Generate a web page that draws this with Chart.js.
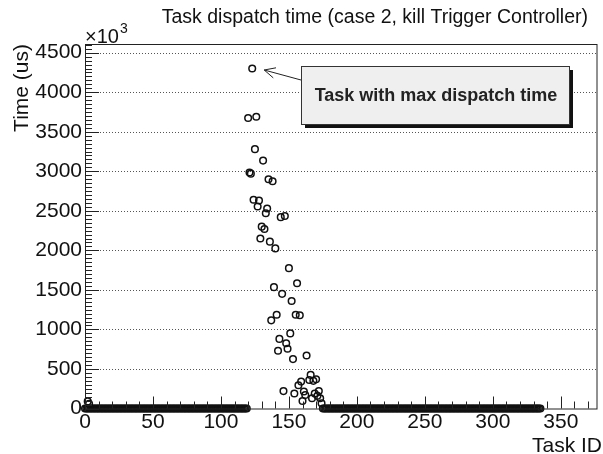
<!DOCTYPE html>
<html lang="en">
<head>
<meta charset="UTF-8">
<title>Task dispatch time</title>
<script src="https://cdn.jsdelivr.net/npm/chart.js@4.4.1/dist/chart.umd.min.js"></script>
<style>
  html, body { margin: 0; padding: 0; background: #fff; }
</style>
</head>
<body>
<canvas id="chart" width="603" height="454"></canvas>
<script>
// task IDs that were dispatched in ~0 us (before and after the burst)
const idleRanges = [[0, 119], [175, 335]];
// couple of early tasks just above zero
const earlyIds = [2, 3];
const earlyTimes = [90, 60];
// burst after killing the Trigger Controller (time in 10^3 us)
const burstIds = [123, 120, 126, 125, 131, 121, 122, 135, 138, 124, 128, 127, 134, 133,
  144, 147, 130, 132, 129, 136, 140, 150, 156, 139, 145, 152, 141, 137, 155, 158, 151,
  143, 148, 149, 142, 153, 163, 146, 154, 157, 159, 166, 165, 168, 170, 161, 162, 169,
  172, 171, 160, 167, 173, 174];
const burstTimes = [4300, 3675, 3690, 3280, 3135, 2985, 2970, 2900, 2875, 2640, 2630, 2555, 2530, 2470,
  2420, 2435, 2300, 2270, 2150, 2110, 2025, 1775, 1585, 1535, 1450, 1360, 1185, 1115, 1185, 1180, 950,
  880, 825, 755, 730, 625, 670, 220, 190, 295, 340, 425, 360, 350, 370, 215, 170, 190,
  220, 160, 95, 130, 130, 65];
const xTicks = [0, 50, 100, 150, 200, 250, 300, 350];
const yTicks = [0, 500, 1000, 1500, 2000, 2500, 3000, 3500, 4000, 4500];
const xMax = 377, yMax = 4610;

const points = [];
idleRanges.forEach(([a, b]) => { for (let id = a; id <= b; id++) points.push({x: id, y: 0}); });
earlyIds.forEach((id, i) => points.push({x: id, y: earlyTimes[i]}));
burstIds.forEach((id, i) => points.push({x: id, y: burstTimes[i]}));

const FONT = 'Arial, "Liberation Sans", Helvetica, sans-serif';

const rootStyle = {
  id: 'rootStyle',
  beforeDatasetsDraw(chart) {
    const {ctx, chartArea: a, scales: {y}} = chart;
    ctx.save();
    ctx.strokeStyle = '#555';
    ctx.lineWidth = 1;
    ctx.setLineDash([1, 2]);
    yTicks.forEach(v => {
      if (v === 0) return;
      const py = Math.round(y.getPixelForValue(v)) + 0.5;
      ctx.beginPath(); ctx.moveTo(a.left, py); ctx.lineTo(a.right, py); ctx.stroke();
    });
    ctx.restore();
  },
  afterDatasetsDraw(chart) {
    const {ctx, chartArea: a, scales: {x, y}} = chart;
    ctx.save();
    ctx.strokeStyle = '#222';
    ctx.lineWidth = 1;
    ctx.setLineDash([]);
    // frame
    ctx.strokeRect(a.left + 0.5, a.top + 0.5, a.right - a.left - 1, a.bottom - a.top);
    // ticks drawn inside the frame, ROOT style
    ctx.beginPath();
    for (let v = 0; v <= xMax; v += 10) {
      const px = Math.round(x.getPixelForValue(v)) + 0.5;
      const len = v % 50 === 0 ? 12 : 7;
      ctx.moveTo(px, a.bottom); ctx.lineTo(px, a.bottom - len);
    }
    for (let v = 0; v <= yMax; v += 50) {
      const py = Math.round(y.getPixelForValue(v)) + 0.5;
      const len = v % 500 === 0 ? 14 : 7;
      ctx.moveTo(a.left, py); ctx.lineTo(a.left + len, py);
    }
    ctx.stroke();

    // title
    ctx.fillStyle = '#111';
    ctx.font = '19.5px ' + FONT;
    ctx.textAlign = 'right';
    ctx.textBaseline = 'alphabetic';
    ctx.fillText('Task dispatch time (case 2, kill Trigger Controller)', 588, 23);

    // exponent
    ctx.textAlign = 'left';
    ctx.font = '20px ' + FONT;
    ctx.fillText('\u00d710', a.left, a.top - 1);
    ctx.font = '14px ' + FONT;
    ctx.fillText('3', a.left + 35, a.top - 11);

    // axis titles
    ctx.font = '21px ' + FONT;
    ctx.textAlign = 'right';
    ctx.fillText('Task ID', 602, 452);
    ctx.save();
    ctx.translate(28, a.top);
    ctx.rotate(-Math.PI / 2);
    ctx.textAlign = 'right';
    ctx.fillText('Time (us)', 0, 0);
    ctx.restore();

    // annotation box with shadow
    const bx = 301, by = 66, bw = 268, bh = 58;
    ctx.fillStyle = '#111';
    ctx.fillRect(bx + 4, by + 4, bw, bh);
    ctx.fillStyle = '#efefef';
    ctx.fillRect(bx, by, bw, bh);
    ctx.strokeStyle = '#333';
    ctx.strokeRect(bx + 0.5, by + 0.5, bw, bh);
    ctx.fillStyle = '#222';
    ctx.font = 'bold 18px ' + FONT;
    ctx.textAlign = 'center';
    ctx.textBaseline = 'middle';
    ctx.fillText('Task with max dispatch time', bx + bw / 2 + 1, by + bh / 2 + 1);

    // arrow to the max point
    const tipX = x.getPixelForValue(123) + 12, tipY = y.getPixelForValue(4300) + 1.5;
    const fromX = bx, fromY = by + 14;
    const ang = Math.atan2(fromY - tipY, fromX - tipX);
    ctx.strokeStyle = '#222';
    ctx.lineWidth = 1;
    ctx.beginPath();
    ctx.moveTo(fromX, fromY); ctx.lineTo(tipX, tipY);
    ctx.moveTo(tipX + 12 * Math.cos(ang - 0.45), tipY + 12 * Math.sin(ang - 0.45));
    ctx.lineTo(tipX, tipY);
    ctx.lineTo(tipX + 12 * Math.cos(ang + 0.45), tipY + 12 * Math.sin(ang + 0.45));
    ctx.stroke();
    ctx.restore();
  }
};

new Chart(document.getElementById('chart'), {
  type: 'scatter',
  data: {
    datasets: [{
      data: points,
      pointStyle: 'circle',
      pointRadius: 3.3,
      borderWidth: 1.5,
      borderColor: '#111',
      backgroundColor: 'rgba(0,0,0,0)',
      clip: false
    }]
  },
  options: {
    responsive: false,
    animation: false,
    layout: { padding: { left: 0, top: 44, right: 1.5, bottom: 0 } },
    plugins: { legend: { display: false }, tooltip: { enabled: false } },
    scales: {
      x: {
        type: 'linear', min: 0, max: xMax,
        grid: { display: false, drawTicks: false },
        border: { display: false },
        afterFit: s => { s.height = 45.5; },
        afterBuildTicks: s => { s.ticks = xTicks.map(v => ({value: v})); },
        ticks: { padding: 1, color: '#111', maxRotation: 0, autoSkip: false,
          font: { family: FONT, size: 21 }, callback: v => String(v) }
      },
      y: {
        type: 'linear', min: 0, max: yMax,
        grid: { display: false, drawTicks: false },
        border: { display: false },
        afterFit: s => { s.width = 85; },
        afterBuildTicks: s => { s.ticks = yTicks.map(v => ({value: v})); },
        ticks: { padding: 3, color: '#111', autoSkip: false,
          font: { family: FONT, size: 21 }, callback: v => String(v) }
      }
    }
  },
  plugins: [rootStyle]
});
</script>
</body>
</html>
